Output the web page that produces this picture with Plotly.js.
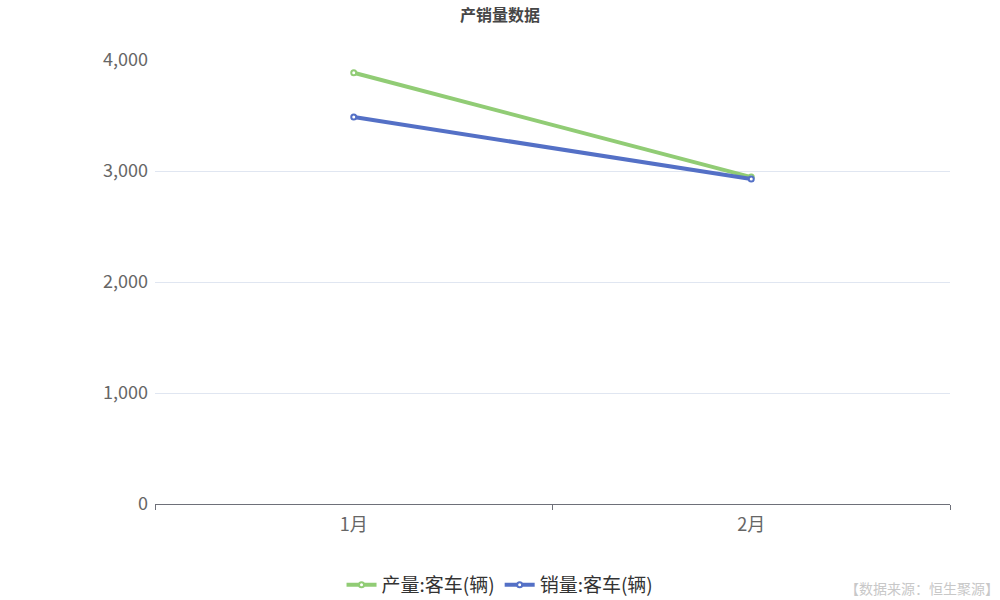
<!DOCTYPE html>
<html>
<head>
<meta charset="utf-8">
<script src="https://cdn.plot.ly/plotly-3.0.1.min.js"></script>
<style>
  html, body { margin: 0; padding: 0; background: #fff; }
  #chart { width: 1000px; height: 600px; }
</style>
</head>
<body>
<div id="chart"></div>
<script>
/* ── Data ─────────────────────────────────────────────── */
const months = ['1月', '2月'];
const productionBus = [3885, 2945];   // 产量:客车(辆)
const salesBus = [3486, 2927];        // 销量:客车(辆)

const FONT = '"Noto Sans CJK SC", "Noto Sans", sans-serif';

const traces = [
  {
    x: months, y: productionBus, name: '产量:客车(辆)',
    mode: 'lines+markers', type: 'scatter',
    line: { color: '#91cc75', width: 4 },
    marker: { size: 5, color: '#fff', line: { color: '#91cc75', width: 2 } },
    hovertemplate: '产量:客车(辆)<br>%{x}: %{y:,}<extra></extra>'
  },
  {
    x: months, y: salesBus, name: '销量:客车(辆)',
    mode: 'lines+markers', type: 'scatter',
    line: { color: '#5470c6', width: 4 },
    marker: { size: 5, color: '#fff', line: { color: '#5470c6', width: 2 } },
    hovertemplate: '销量:客车(辆)<br>%{x}: %{y:,}<extra></extra>'
  }
];

const layout = {
  width: 1000, height: 600,
  font: { family: FONT, size: 14, color: '#666' },
  paper_bgcolor: '#fff', plot_bgcolor: '#fff',
  margin: { l: 155, r: 50, t: 60, b: 96, autoexpand: false },
  title: {
    text: '<b>产销量数据</b>', x: 0.5, xanchor: 'center', y: 0.975, yanchor: 'middle',
    font: { family: FONT, size: 16, color: '#464646' }
  },
  xaxis: {
    type: 'category', range: [-0.5, 1.5],
    tickson: 'boundaries', ticks: 'outside', ticklen: 5, tickcolor: '#6E7079',
    showline: true, linecolor: '#6E7079', linewidth: 1,
    showgrid: false, zeroline: false, ticklabelstandoff: 4, automargin: false,
    tickfont: { size: 18, color: '#666' }
  },
  yaxis: {
    range: [0, 4000], dtick: 1000, tickformat: ',',
    showline: false, zeroline: false,
    gridcolor: '#e0e6f1', gridwidth: 1,
    ticks: '', ticklabelstandoff: 6, automargin: false,
    tickfont: { size: 18, color: '#666' }
  },
  showlegend: true,
  legend: {
    orientation: 'h', x: 0.434, xanchor: 'center', y: -0.182, yanchor: 'middle',
    font: { size: 19, color: '#333' }, itemwidth: 30
  },
  annotations: [
    {
      text: '【数据来源：恒生聚源】', xref: 'paper', yref: 'paper',
      x: 1.0625, xanchor: 'right', y: -0.189, yanchor: 'middle',
      showarrow: false, borderpad: 0, font: { size: 14, color: '#c8c8c8' }
    }
  ]
};

Plotly.newPlot('chart', traces, layout, { displayModeBar: false, responsive: false });
</script>
</body>
</html>
